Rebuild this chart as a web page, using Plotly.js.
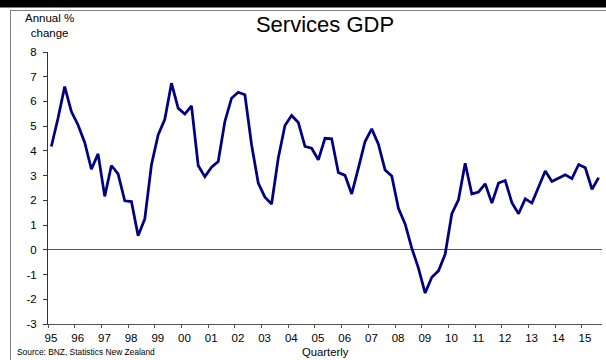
<!DOCTYPE html>
<html>
<head>
<meta charset="utf-8">
<script src="https://cdn.plot.ly/plotly-3.0.1.min.js"></script>
<style>
  html, body { margin: 0; padding: 0; background: #fff; }
  #chart { width: 606px; height: 360px; }
</style>
</head>
<body>
<div id="chart"></div>
<script>
// ---- Data ----
const title = 'Services GDP';
const yTitle = 'Annual %<br>change';
const xTitle = 'Quarterly';
const source = 'Source: BNZ, Statistics New Zealand';

const startYear = 1995;
const yearLabels = ['95','96','97','98','99','00','01','02','03','04','05',
                    '06','07','08','09','10','11','12','13','14','15'];
const yTickVals = [-3, -2, -1, 0, 1, 2, 3, 4, 5, 6, 7, 8];
const yTickLabels = ['-3','-2','-1','0','1','2','3','4','5','6','7','8'];

// Annual % change, quarterly, 1995Q1 .. 2015Q3
const servicesGDP = [
  4.18, 5.32, 6.60, 5.59, 5.05, 4.34, 3.26, 3.88, 2.16, 3.41,
  3.07, 1.98, 1.95, 0.57, 1.25, 3.44, 4.65, 5.28, 6.74, 5.73,
  5.49, 5.82, 3.41, 2.96, 3.34, 3.57, 5.19, 6.13, 6.37, 6.27,
  4.25, 2.70, 2.13, 1.85, 3.71, 5.03, 5.43, 5.15, 4.18, 4.11,
  3.64, 4.51, 4.49, 3.13, 3.01, 2.26, 3.30, 4.38, 4.89, 4.27,
  3.23, 2.99, 1.68, 1.05, 0.07, -0.74, -1.75, -1.11, -0.85, -0.18,
  1.46, 2.02, 3.50, 2.26, 2.34, 2.67, 1.89, 2.70, 2.80, 1.91,
  1.46, 2.06, 1.89, 2.56, 3.19, 2.76, 2.90, 3.03, 2.88, 3.45,
  3.32, 2.45, 2.92
];

// quarter categories
const quarters = servicesGDP.map((_, i) =>
  (startYear + Math.floor(i / 4)) + 'Q' + (i % 4 + 1));
// position each quarter in the middle of its quarter on a decimal-year axis
const xPos = quarters.map(q => {
  const y = parseInt(q.slice(0, 4), 10);
  const qq = parseInt(q.slice(5), 10);
  return y + (qq - 0.5) / 4;
});
const tickYears = yearLabels.map((_, i) => startYear + i);

// ---- Layout geometry ----
const W = 606, H = 360;
const M = { l: 48, r: 4, t: 52, b: 36 };
const pw = W - M.l - M.r, ph = H - M.t - M.b;
const px2x = px => (px - M.l) / pw;
const py2y = py => (H - M.b - py) / ph;

const FONT = 'Arial, "Liberation Sans", sans-serif';

const trace = {
  x: xPos,
  y: servicesGDP,
  type: 'scatter',
  mode: 'lines',
  line: { color: '#000080', width: 2.75 },
  hoverinfo: 'skip',
  showlegend: false
};

const layout = {
  width: W, height: H,
  margin: M,
  paper_bgcolor: '#ffffff',
  plot_bgcolor: '#ffffff',
  font: { family: FONT, color: '#000', size: 11.5 },
  title: {
    text: title,
    font: { family: FONT, size: 22, color: '#000' },
    xref: 'paper', x: 0.5, xanchor: 'center',
    yref: 'container', y: 1 - 24 / H, yanchor: 'middle'
  },
  xaxis: {
    range: [startYear, startYear + servicesGDP.length / 4],
    tickmode: 'array',
    tickvals: tickYears,
    ticktext: yearLabels,
    ticks: 'outside', ticklen: 3, tickwidth: 1, tickcolor: '#555',
    ticklabelshift: 3,
    showline: true, linecolor: '#555', linewidth: 1,
    showgrid: false, zeroline: false,
    tickfont: { family: FONT, size: 11.5, color: '#000' },
    fixedrange: true
  },
  yaxis: {
    range: [-3, 8],
    tickmode: 'array', tickvals: yTickVals, ticktext: yTickLabels,
    ticks: 'outside', ticklen: 4, tickwidth: 1, tickcolor: '#333',
    ticklabelstandoff: 4,
    showline: true, linecolor: '#333', linewidth: 1,
    showgrid: false,
    zeroline: true, zerolinecolor: '#555', zerolinewidth: 1,
    tickfont: { family: FONT, size: 11.5, color: '#000' },
    fixedrange: true
  },
  shapes: [
    // black bar at the very top
    { type: 'rect', xref: 'paper', yref: 'paper',
      x0: px2x(0), x1: px2x(W), y0: py2y(0), y1: py2y(7.5),
      fillcolor: '#000', line: { width: 0 }, layer: 'above' },
    // grey frame: top and left edges
    { type: 'line', xref: 'paper', yref: 'paper',
      x0: px2x(10), x1: px2x(W), y0: py2y(10.5), y1: py2y(10.5),
      line: { color: '#808080', width: 1 } },
    { type: 'line', xref: 'paper', yref: 'paper',
      x0: px2x(10.5), x1: px2x(10.5), y0: py2y(10.5), y1: py2y(H),
      line: { color: '#808080', width: 1 } }
  ],
  annotations: [
    { text: yTitle, xref: 'paper', yref: 'paper',
      x: px2x(49), y: py2y(26), xanchor: 'center', yanchor: 'middle',
      showarrow: false, align: 'center',
      font: { family: FONT, size: 11.5, color: '#000' } },
    { text: xTitle, xref: 'paper', yref: 'paper',
      x: px2x(325), y: py2y(351.5), xanchor: 'center', yanchor: 'middle',
      showarrow: false,
      font: { family: FONT, size: 11.3, color: '#000' } },
    { text: source, xref: 'paper', yref: 'paper',
      x: px2x(15), y: py2y(352), xanchor: 'left', yanchor: 'middle',
      showarrow: false,
      font: { family: FONT, size: 8.4, color: '#000' } }
  ]
};

Plotly.newPlot('chart', [trace], layout, { staticPlot: true, displayModeBar: false });
</script>
</body>
</html>
